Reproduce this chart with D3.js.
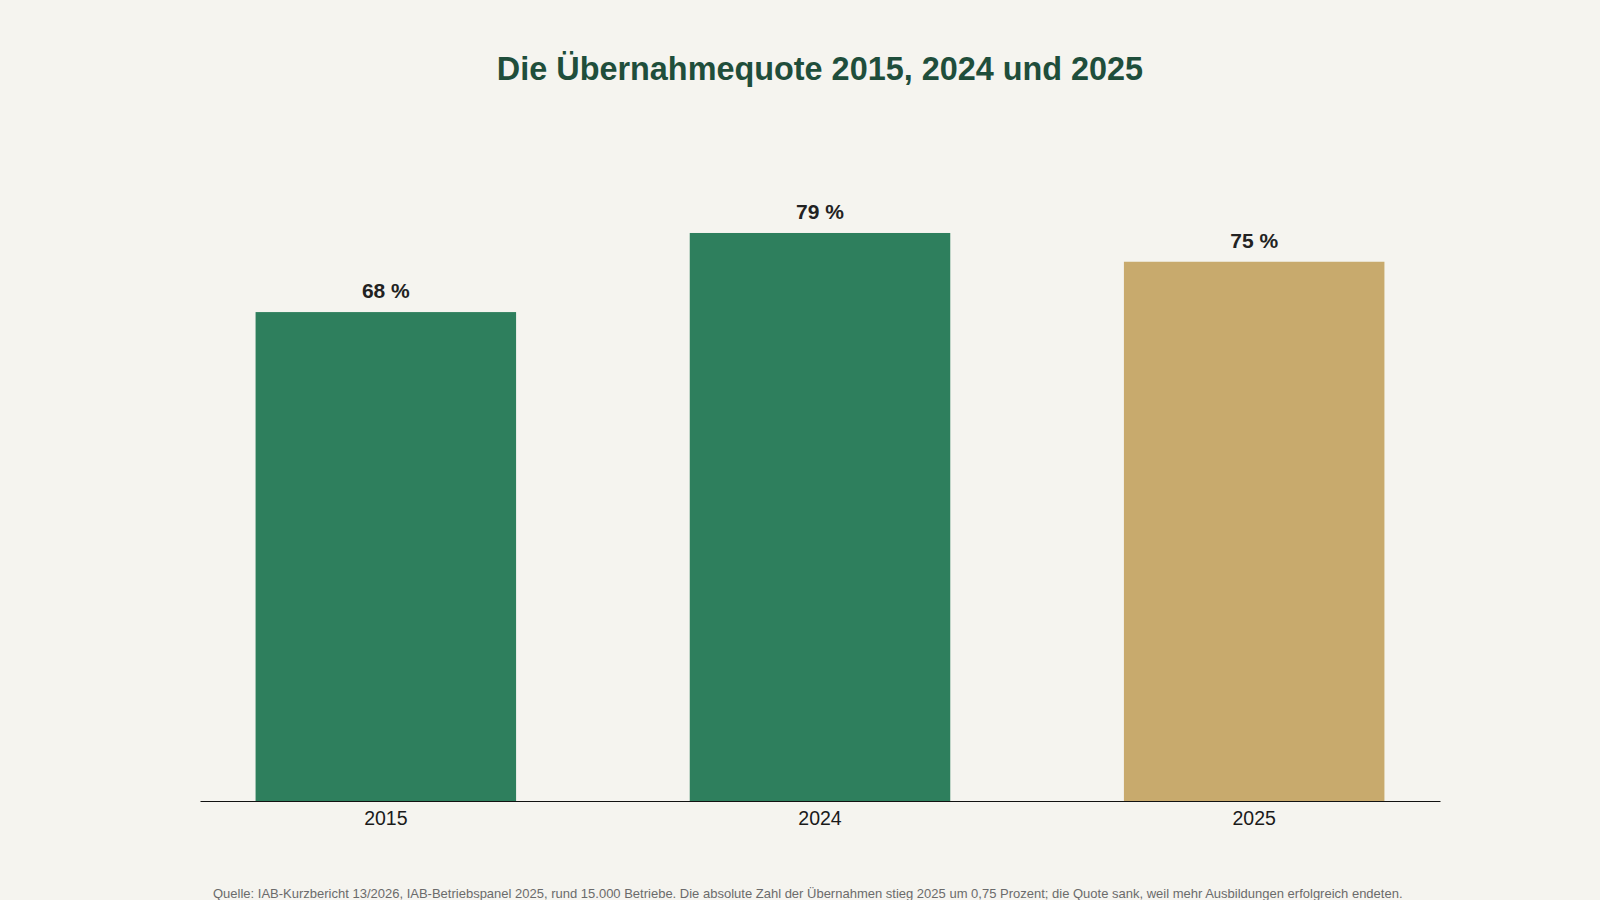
<!DOCTYPE html>
<html>
<head>
<meta charset="utf-8">
<script src="https://cdn.jsdelivr.net/npm/d3@7"></script>
<style>
    html, body { margin: 0; padding: 0; background: #f5f4ef; }
    svg { display: block; font-family: "Liberation Sans", Arial, sans-serif; }
</style>
</head>
<body>
<svg width="1600" height="900"></svg>
<script>
// Chart data
const years = ['2015', '2024', '2025']
const quotes = [68, 79, 75]
const barColors = ['#2e7f5d', '#2e7f5d', '#c8aa6d']
const title = 'Die Übernahmequote 2015, 2024 und 2025'
const source = 'Quelle: IAB-Kurzbericht 13/2026, IAB-Betriebspanel 2025, rund 15.000 Betriebe. Die absolute Zahl der Übernahmen stieg 2025 um 0,75 Prozent; die Quote sank, weil mehr Ausbildungen erfolgreich endeten.'

const margin = { left: 200, right: 160, top: 82, bottom: 99 }
const width = 1600, height = 900

const svg = d3.select('svg')

svg.append('rect')
    .attr('width', width)
    .attr('height', height)
    .attr('fill', '#f5f4ef')

// Scales
const x = d3.scaleBand()
    .domain(years)
    .range([margin.left, width - margin.right])
    .paddingInner(0.4)
    .paddingOuter(0.128)

const y = d3.scaleLinear()
    .domain([0, 100])
    .range([height - margin.bottom, margin.top])

// Bars
svg.selectAll('rect.bar')
    .data(quotes)
    .enter()
    .append('rect')
    .attr('class', 'bar')
    .attr('x', (d, i) => x(years[i]))
    .attr('y', d => y(d))
    .attr('width', x.bandwidth())
    .attr('height', d => y(0) - y(d))
    .attr('fill', (d, i) => barColors[i])

// Value labels above the bars
svg.selectAll('text.value')
    .data(quotes)
    .enter()
    .append('text')
    .attr('class', 'value')
    .attr('x', (d, i) => x(years[i]) + x.bandwidth() / 2)
    .attr('y', d => y(d) - 14)
    .attr('text-anchor', 'middle')
    .style('font-size', '21px')
    .style('font-weight', 'bold')
    .style('fill', '#222')
    .text(d => d + ' %')

// x axis, line only
const xAxis = svg.append('g')
    .attr('transform', `translate(0,${y(0)})`)
    .call(d3.axisBottom(x).tickSize(0).tickPadding(10))

xAxis.select('.domain')
    .attr('stroke', '#111')
    .attr('stroke-width', 1.2)

xAxis.selectAll('text')
    .style('font-size', '19.5px')
    .style('font-family', '"Liberation Sans", Arial, sans-serif')
    .style('fill', '#1a1a1a')

// Title
svg.append('text')
    .attr('x', 820)
    .attr('y', 80)
    .attr('text-anchor', 'middle')
    .style('font-size', '32.4px')
    .style('font-weight', 'bold')
    .style('fill', '#1f4e3b')
    .text(title)

// Source note
svg.append('text')
    .attr('x', 213)
    .attr('y', 898)
    .style('font-size', '13px')
    .style('fill', '#6b6b6b')
    .text(source)
</script>
</body>
</html>
